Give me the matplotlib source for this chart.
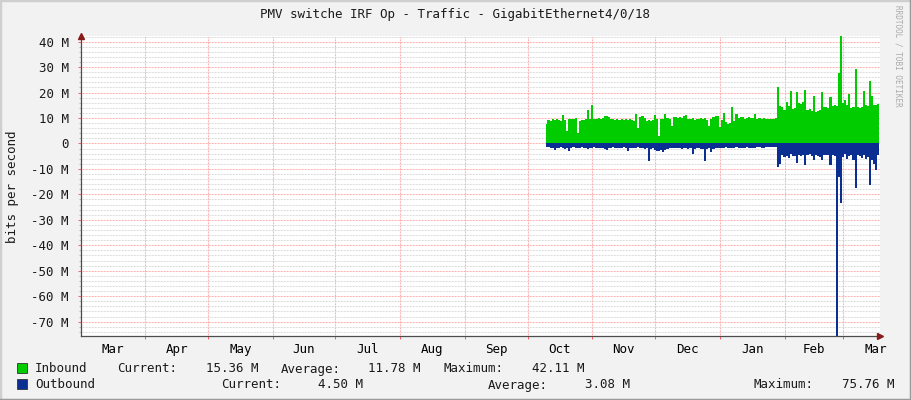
"""
Interface traffic graph, rrdtool style.
"""
import numpy as np
import pandas as pd
import matplotlib
matplotlib.use("Agg")
import matplotlib.pyplot as plt
from matplotlib.lines import Line2D

# ---- data (Mbit/s, one value per day) ----
start_date = "2022-10-10"

inbound = [
    7.8, 9.3, 9.0, 9.5, 9.2, 9.6, 9.1, 8.8, 11.0, 9.4,
    5.0, 9.6, 9.8, 9.5, 9.9, 4.0, 9.0, 9.4, 9.2, 9.6,
    13.0, 9.8, 15.0, 9.5, 9.8, 10.0, 9.6, 10.2, 10.6, 10.8,
    10.4, 9.8, 9.5, 9.2, 9.6, 9.4, 9.8, 9.1, 9.5, 9.3,
    9.7, 9.4, 9.0, 11.4, 6.0, 10.5, 10.6, 10.2, 9.0, 9.3,
    8.8, 9.4, 11.0, 9.8, 3.0, 9.5, 9.8, 11.4, 10.2, 9.6,
    7.0, 10.3, 10.5, 10.2, 10.4, 10.0, 10.6, 11.2, 9.8, 9.6,
    10.0, 9.4, 9.8, 9.5, 10.1, 9.7, 9.9, 9.4, 7.0, 9.8,
    10.4, 10.9, 10.6, 6.4, 9.2, 11.9, 8.5, 7.8, 8.2, 14.5,
    9.0, 11.4, 10.0, 10.3, 10.4, 9.8, 10.2, 10.5, 10.1, 9.9,
    11.6, 9.8, 10.0, 9.6, 9.9, 9.7, 9.7, 9.5, 9.8, 9.6,
    10.0, 22.0, 14.9, 14.5, 13.0, 16.2, 14.8, 20.8, 13.6, 13.8,
    20.4, 16.0, 15.5, 16.2, 21.2, 13.0, 13.4, 12.8, 18.8, 12.3,
    12.6, 13.0, 20.1, 14.2, 14.5, 13.8, 18.4, 14.9, 15.2, 14.6,
    27.5, 42.11, 16.0, 17.0, 15.0, 19.5, 14.0, 14.5, 29.3, 14.2,
    13.8, 14.5, 20.8, 15.0, 14.6, 24.7, 18.8, 15.2, 15.0, 15.36,
]

outbound = [
    1.2, 1.5, 1.8, 1.6, 2.5, 1.9, 1.7, 1.5, 1.8, 2.0,
    1.6, 3.1, 1.8, 1.5, 1.7, 1.9, 1.6, 1.4, 1.8, 1.7,
    2.2, 1.8, 1.6, 1.5, 1.7, 1.9, 1.6, 1.8, 2.0, 2.7,
    1.8, 1.6, 1.5, 1.7, 1.9, 1.6, 1.8, 1.5, 1.7, 3.1,
    1.9, 1.7, 1.6, 1.8, 1.5, 1.7, 1.9, 2.0, 1.8, 6.7,
    2.0, 1.7, 2.5, 2.8, 3.0, 2.6, 3.4, 2.4, 2.0, 1.8,
    1.9, 1.7, 1.8, 1.6, 1.9, 2.0, 1.8, 1.7, 2.2, 1.9,
    4.0, 2.0, 1.8, 1.9, 2.1, 2.0, 6.7, 2.2, 1.9, 3.4,
    2.0, 1.7, 1.8, 1.6, 1.9, 1.7, 1.5, 1.8, 1.6, 1.9,
    1.7, 1.5, 1.8, 1.6, 1.9, 1.7, 1.5, 1.6, 1.8, 1.7,
    1.6, 1.4, 1.5, 1.7, 1.6, 1.4, 1.3, 1.5, 1.2, 1.3,
    1.4, 9.1, 8.0, 4.5, 5.2, 4.8, 5.6, 4.2, 4.8, 5.0,
    7.7, 4.5, 4.8, 4.4, 8.5, 4.6, 4.2, 5.0, 6.5, 4.4,
    4.8, 5.2, 6.5, 4.5, 4.4, 4.6, 8.5, 4.7, 5.0, 75.76,
    13.0, 23.5, 5.5, 4.2, 6.0, 5.0, 4.5, 6.5, 17.6, 4.6,
    5.0, 5.8, 4.6, 6.0, 5.2, 16.3, 6.5, 8.0, 10.6, 4.5,
]

month_labels = ["Mar", "Apr", "May", "Jun", "Jul", "Aug", "Sep",
                "Oct", "Nov", "Dec", "Jan", "Feb", "Mar"]
y_major = [40, 30, 20, 10, 0, -10, -20, -30, -40, -50, -60, -70]
y_labels = ["40 M", "30 M", "20 M", "10 M", "0", "-10 M", "-20 M",
            "-30 M", "-40 M", "-50 M", "-60 M", "-70 M"]

legend_rows = [
    ("Inbound", [("Current:", "15.36 M"), ("Average:", "11.78 M"), ("Maximum:", "42.11 M")]),
    ("Outbound", [("Current:", "4.50 M"), ("Average:", "3.08 M"), ("Maximum:", "75.76 M")]),
]

IN_COL = "#00cc00"
OUT_COL = "#0b2e93"
BG = "#f2f2f2"
MONO = "DejaVu Sans Mono"
TXT = "#1a1a1a"

dates = pd.date_range(start_date, periods=len(inbound), freq="D")
inb = np.array(inbound)
outb = -np.array(outbound)

x_start = pd.Timestamp("2022-03-01")
x_end = x_start + pd.Timedelta(days=382.7)
month_starts = pd.date_range(x_start, periods=len(month_labels) + 1, freq="MS")
month_mids = month_starts[:-1] + (month_starts[1:] - month_starts[:-1]) / 2

W, H = 911, 400
fig = plt.figure(figsize=(W / 100, H / 100), dpi=100, facecolor=BG)
ax = fig.add_axes([80.5 / W, (H - 336.3) / H, 799.5 / W, 300 / H])
ax.set_facecolor("white")

ax.fill_between(dates, 0, inb, step="mid", color=IN_COL, linewidth=0, zorder=3)
ax.fill_between(dates, 0, outb, step="mid", color=OUT_COL, linewidth=0, zorder=3)

ax.set_xlim(x_start, x_end)
ax.set_ylim(-75.76, 42.11)

# grid: red dotted majors, gray dotted minors
dots = (0, (0.72, 0.72))
y_minor = [v for v in range(-74, 43, 2) if v % 10 != 0]
ax.set_yticks(y_major)
ax.set_yticklabels(y_labels, fontfamily=MONO, fontsize=9)
ax.set_yticks(y_minor, minor=True)
ax.set_xticks(month_starts[1:-1])
ax.set_xticklabels([])
ax.set_xticks(month_mids, minor=True)
ax.set_xticklabels(month_labels, minor=True, fontfamily=MONO, fontsize=9)

ax.grid(which="major", color="#ff9999", linestyle=dots, linewidth=0.75, zorder=1)
ax.grid(which="minor", axis="y", color="#d2d2d2", linestyle=dots, linewidth=0.75, zorder=1)
ax.tick_params(axis="y", which="major", length=2.5, width=0.75, color="#ff6666", pad=6)
ax.tick_params(axis="y", which="minor", length=1.5, width=0.75, color="#bbbbbb")
ax.tick_params(axis="x", which="major", length=2.5, width=0.75, color="#ff6666")
ax.tick_params(axis="x", which="minor", length=0, pad=5)
ax.tick_params(labelcolor=TXT)

for s in ("top", "right"):
    ax.spines[s].set_visible(False)
for s in ("left", "bottom"):
    ax.spines[s].set_color("#4d4d4d")
    ax.spines[s].set_linewidth(0.9)
    ax.spines[s].set_zorder(5)

# axis arrows
ax.plot([0], [1.0], marker="^", markersize=5, color="#8b1a1a",
        transform=ax.transAxes, clip_on=False, zorder=6)
ax.plot([1.0], [0], marker=">", markersize=5, color="#8b1a1a",
        transform=ax.transAxes, clip_on=False, zorder=6)

ax.set_ylabel("bits per second", fontfamily=MONO, fontsize=9, labelpad=9, color=TXT)

fig.text(455.5 / W, 1 - 18 / H, "PMV switche IRF Op - Traffic - GigabitEthernet4/0/18",
         ha="center", va="baseline", fontfamily=MONO, fontsize=9, color=TXT)
fig.text(898 / W, 1 - 5 / H, "RRDTOOL / TOBI OETIKER", rotation=-90,
         ha="center", va="top", fontfamily=MONO, fontsize=5.5, color="#aaaaaa")

# legend rows placed like rrdtool's text layout
row_y = [368, 384]
label_x = [[117, 206, 281, 368, 443, 532], [221, 317.5, 488, 585, 754, 842]]
for (name, stats), yy, xs, col in zip(legend_rows, row_y, label_x, [IN_COL, OUT_COL]):
    fig.patches.append(plt.Rectangle((17 / W, 1 - (yy + 5) / H), 10 / W, 10 / H,
                                     transform=fig.transFigure, facecolor=col,
                                     edgecolor="#333333", linewidth=0.6))
    base = 1 - (yy + 4.5) / H
    fig.text(35 / W, base, name, ha="left", va="baseline",
             fontfamily=MONO, fontsize=9, color=TXT)
    pieces = [p for pair in stats for p in pair]
    for px, txt in zip(xs, pieces):
        fig.text(px / W, base, txt, ha="left", va="baseline",
                 fontfamily=MONO, fontsize=9, color=TXT)

# 3d-ish frame around the image
for xs_, ys_, c in [([0, 0], [0, 1], "#cfcfcf"), ([0, 1], [1, 1], "#cfcfcf"),
                    ([0, 1], [0, 0], "#9a9a9a"), ([1, 1], [0, 1], "#9a9a9a")]:
    fig.lines.append(Line2D(xs_, ys_, transform=fig.transFigure, color=c, linewidth=2.5))

fig.savefig("out.png", dpi=100, facecolor=BG)
